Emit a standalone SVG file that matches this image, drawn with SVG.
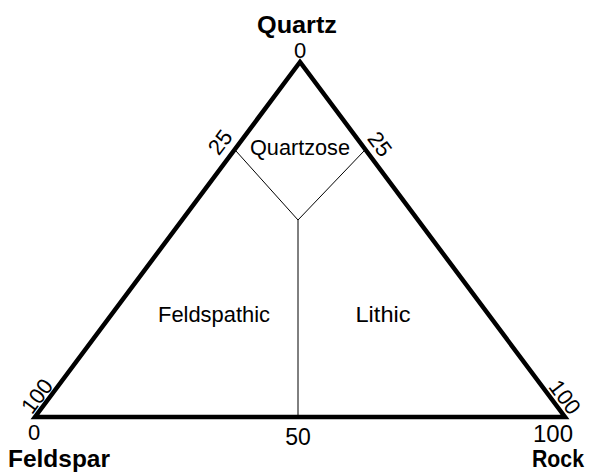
<svg xmlns="http://www.w3.org/2000/svg" width="596" height="474" viewBox="0 0 596 474">
<style>
text{font-family:"Liberation Sans",Arial,sans-serif;fill:#000}
.b{font-weight:bold;font-size:24px}
.n{font-size:23px}
.r{font-size:22px}
.l{font-size:22px}
.thick{stroke:#000;stroke-width:4.5;fill:none;stroke-linejoin:miter}
.thin{stroke:#000;stroke-width:1;fill:none}
</style>
<rect width="596" height="474" fill="#fff"/>
<g id="triangle">
<polygon class="thick" points="300,62 35,417 565,417"/>
</g>
<g id="connectors">
<line class="thin" x1="236" y1="151" x2="298" y2="220"/>
<line class="thin" x1="364" y1="151" x2="298" y2="220"/>
<line class="thin" x1="298" y1="220" x2="298" y2="417"/>
</g>
<g id="quartz">
<text class="b" x="297" y="33" text-anchor="middle" textLength="80" lengthAdjust="spacingAndGlyphs">Quartz</text>
<text class="r" x="300" y="58" text-anchor="middle">0</text>
</g>
<g id="ticks">
<text class="r" transform="translate(220,142) rotate(-53)" text-anchor="middle" dy="0.35em">25</text>
<text class="r" transform="translate(380,144) rotate(53)" text-anchor="middle" dy="0.35em">25</text>
<text class="r" transform="translate(37,396) rotate(-53)" text-anchor="middle" dy="0.35em">100</text>
<text class="r" transform="translate(565,397) rotate(53)" text-anchor="middle" dy="0.35em">100</text>
<text class="r" x="34" y="440" text-anchor="middle">0</text>
<text class="n" x="298" y="445" text-anchor="middle">50</text>
<text class="n" x="553" y="442" text-anchor="middle" textLength="40" lengthAdjust="spacingAndGlyphs">100</text>
</g>
<g id="quartzose"><text class="l" x="300" y="155" text-anchor="middle" textLength="100" lengthAdjust="spacingAndGlyphs">Quartzose</text></g>
<g id="feldspathic"><text class="l" x="214" y="322" text-anchor="middle" textLength="112" lengthAdjust="spacingAndGlyphs">Feldspathic</text></g>
<g id="lithic"><text class="l" x="383" y="322" text-anchor="middle" textLength="55" lengthAdjust="spacingAndGlyphs">Lithic</text></g>
<g id="feldspar"><text class="b" x="59" y="467" text-anchor="middle" textLength="102" lengthAdjust="spacingAndGlyphs">Feldspar</text></g>
<g id="rock"><text class="b" x="558" y="467" text-anchor="middle" textLength="52" lengthAdjust="spacingAndGlyphs">Rock</text></g>
</svg>
